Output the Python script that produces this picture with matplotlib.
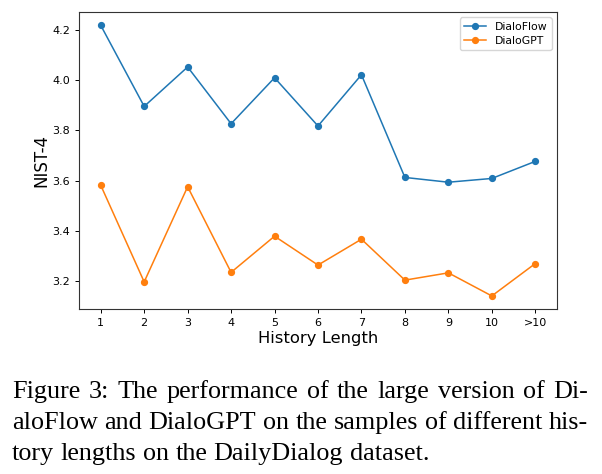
import matplotlib.pyplot as plt

# -----------------------------
# Data
# -----------------------------
HISTORY_LABELS = ["1", "2", "3", "4", "5", "6", "7", "8", "9", "10", ">10"]
DIALOFLOW = [4.219, 3.896, 4.053, 3.827, 4.010, 3.818, 4.022, 3.613, 3.594, 3.609, 3.677]
DIALOGPT = [3.582, 3.197, 3.576, 3.235, 3.379, 3.264, 3.367, 3.204, 3.233, 3.141, 3.270]
Y_TICKS = [3.2, 3.4, 3.6, 3.8, 4.0, 4.2]

CAPTION_LINES = [
    "Figure 3:  The performance of the large version of Di-",
    "aloFlow and DialoGPT on the samples of different his-",
    "tory lengths on the DailyDialog dataset.",
]

W, H = 602, 474


def justify_line(fig, renderer, text, y, x0, x1, fontsize, justify=True):
    words = text.split()
    arts = [fig.text(0, y, w, fontsize=fontsize, family="Liberation Serif",
                     ha="left", va="baseline") for w in words]
    widths = [a.get_window_extent(renderer).width for a in arts]
    if justify and len(words) > 1:
        gap = ((x1 - x0) * W - sum(widths)) / (len(words) - 1)
    else:
        space = fig.text(0, 0, "a a", fontsize=fontsize, family="Liberation Serif")
        aa = fig.text(0, 0, "aa", fontsize=fontsize, family="Liberation Serif")
        gap = space.get_window_extent(renderer).width - aa.get_window_extent(renderer).width
        space.remove()
        aa.remove()
    x = x0 * W
    for a, w in zip(arts, widths):
        a.set_x(x / W)
        x += w + gap


def main():
    fig = plt.figure(figsize=(W / 100, H / 100), dpi=100)
    ax = fig.add_axes([79 / W, 1 - 309 / H, (557 - 79) / W, (309 - 12) / H])

    x = list(range(len(HISTORY_LABELS)))
    ax.plot(x, DIALOFLOW, marker="o", color="#1f77b4", lw=1.1, ms=4.2, label="DialoFlow")
    ax.plot(x, DIALOGPT, marker="o", color="#ff7f0e", lw=1.1, ms=4.2, label="DialoGPT")

    ax.set_xticks(x)
    ax.set_xticklabels(HISTORY_LABELS)
    ax.set_yticks(Y_TICKS)
    ax.set_yticklabels([f"{v:.1f}" for v in Y_TICKS])
    ax.set_xlim(-0.5, len(HISTORY_LABELS) - 0.5)
    ax.set_ylim(3.089, 4.272)
    ax.tick_params(labelsize=8, length=3, width=0.7)
    for s in ax.spines.values():
        s.set_linewidth(0.8)
        s.set_color("#333333")

    ax.set_xlabel("History Length", fontsize=11.8, labelpad=2)
    ax.set_ylabel("NIST-4", fontsize=12, labelpad=1)
    ax.legend(loc="upper right", fontsize=7.8, handlelength=2.0, borderpad=0.4,
              labelspacing=0.4, framealpha=0.8)

    fig.canvas.draw()
    renderer = fig.canvas.get_renderer()
    baselines = [398, 429, 460]
    for i, (line, yb) in enumerate(zip(CAPTION_LINES, baselines)):
        justify_line(fig, renderer, line, 1 - yb / H, 12 / W, 588 / W, 18.8,
                     justify=(i < len(CAPTION_LINES) - 1))

    fig.savefig("out.png", dpi=100)
    plt.close(fig)


if __name__ == "__main__":
    main()
